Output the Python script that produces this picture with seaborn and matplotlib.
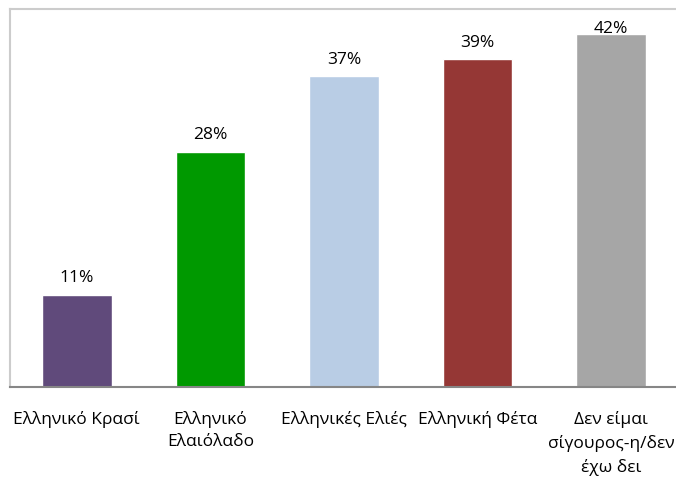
import matplotlib
matplotlib.use("Agg")
import matplotlib.pyplot as plt
import seaborn as sns
import pandas as pd

categories = ["Ελληνικό Κρασί", "Ελληνικό\nΕλαιόλαδο", "Ελληνικές Ελιές",
              "Ελληνική Φέτα", "Δεν είμαι\nσίγουρος-η/δεν\nέχω δει"]
values = [11, 28, 37, 39, 42]
colors = ["#604A7B", "#009900", "#B9CDE5", "#953735", "#A6A6A6"]

sns.set_theme(style="white")
plt.rcParams['font.family'] = ['Open Sans', 'DejaVu Sans']

df = pd.DataFrame({"cat": categories, "val": values})

fig = plt.figure(figsize=(6.76, 4.79), dpi=100)
ax = fig.add_axes([10/676, 1 - 387/479, 668/676, 378/479])
sns.barplot(data=df, x="cat", y="val", hue="cat", palette=colors, legend=False,
            width=0.52, ax=ax, saturation=1)
ax.set_xlim(-0.5, 4.5)
ax.set_ylim(0, 45)
ax.set_xlabel("")
ax.set_ylabel("")
ax.set_yticks([])
ax.tick_params(axis="x", length=0, pad=17, labelsize=12.5, colors="black")
for lbl in ax.get_xticklabels():
    lbl.set_linespacing(1.55)
for c in ax.containers:
    v = c.datavalues[0]
    ax.bar_label(c, labels=[f"{v:.0f}%"], padding=(6 if v < 40 else -2),
                 fontsize=12.5, color="black")
for s in ["left", "top"]:
    ax.spines[s].set_color("#CCCCCC")
    ax.spines[s].set_linewidth(1.5)
ax.spines["right"].set_visible(False)
ax.spines["bottom"].set_color("#868686")
ax.spines["bottom"].set_linewidth(1.5)
fig.savefig("out.png", dpi=100)
